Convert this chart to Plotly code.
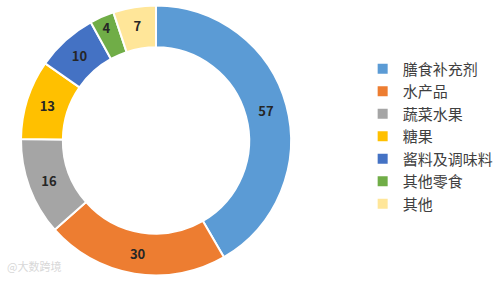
import plotly.graph_objects as go

categories = ["膳食补充剂", "水产品", "蔬菜水果", "糖果", "酱料及调味料", "其他零食", "其他"]
values = [57, 30, 16, 13, 10, 4, 7]
colors = ["#5B9BD5", "#ED7D31", "#A5A5A5", "#FFC000", "#4472C4", "#70AD47", "#FFE699"]

fig = go.Figure(go.Pie(
    labels=categories,
    values=values,
    sort=False,
    direction="clockwise",
    rotation=0,
    hole=0.69,
    marker=dict(colors=colors, line=dict(color="white", width=2)),
    textinfo="value",
    textposition="inside",
    insidetextorientation="horizontal",
    textfont=dict(family="Noto Sans CJK SC", size=13, color="#262626", weight="bold"),
    domain=dict(x=[21/503, 291/503], y=[5/281, 276/281]),
))

fig.update_layout(
    width=503, height=281,
    margin=dict(l=0, r=0, t=0, b=0),
    paper_bgcolor="white",
    showlegend=True,
    legend=dict(
        x=0.721, y=0.514, xanchor="left", yanchor="middle",
        font=dict(family="Noto Sans CJK SC", size=15, color="#404040"),
        tracegroupgap=0, itemwidth=30,
    ),
    uniformtext=dict(minsize=10, mode="show"),
    annotations=[dict(
        text="@大数跨境", x=5/503, y=15/281, xref="paper", yref="paper",
        xanchor="left", yanchor="middle", showarrow=False,
        font=dict(family="Noto Sans CJK SC", size=11, color="#D8D8D8"),
    )],
)

fig.write_html("out.html")
